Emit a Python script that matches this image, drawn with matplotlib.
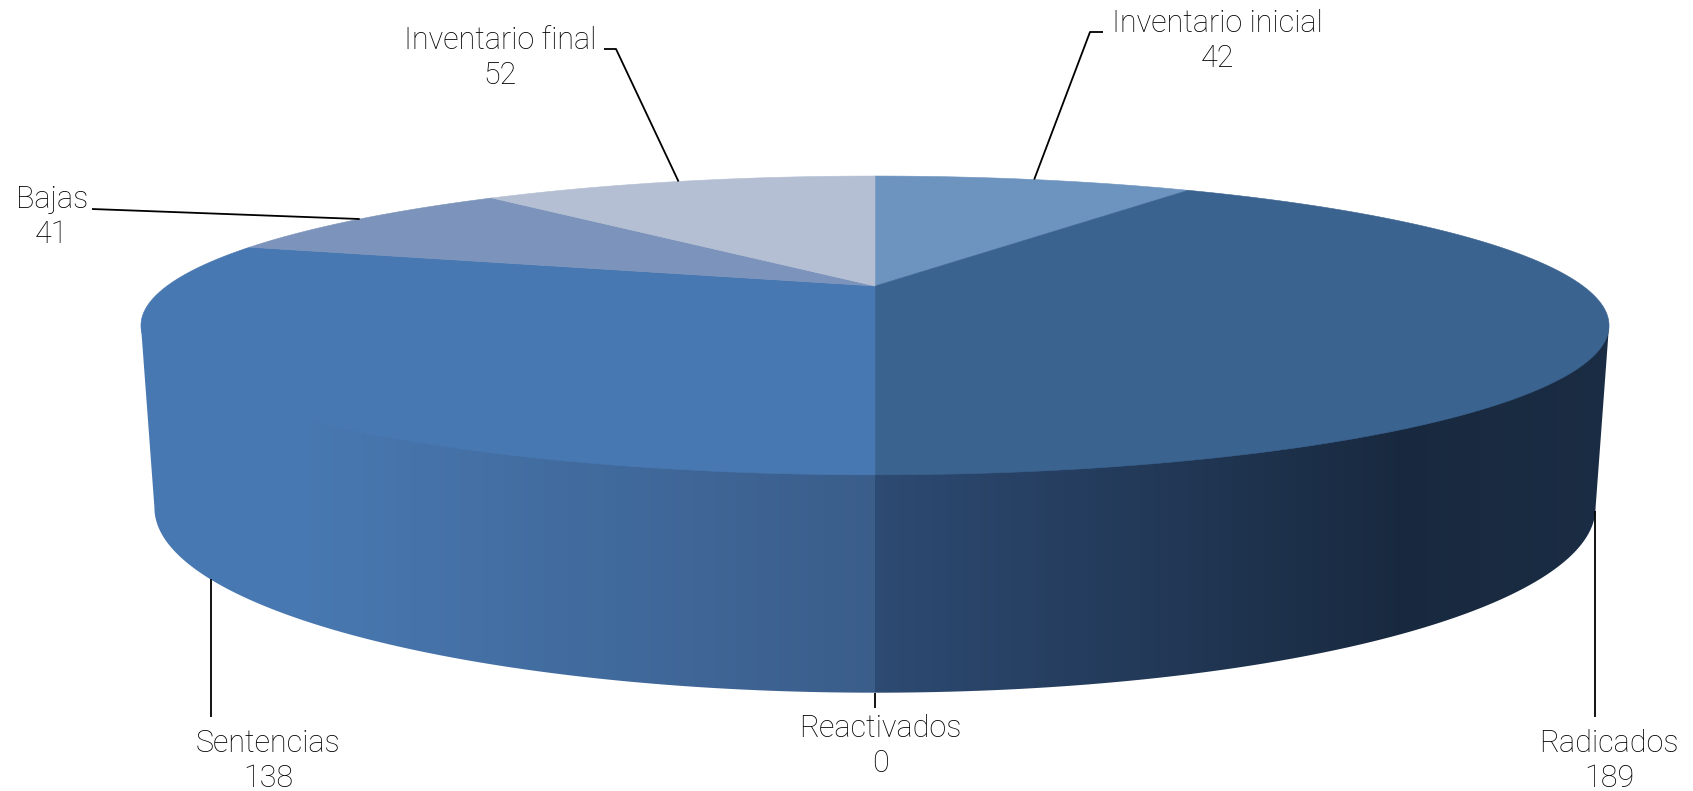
import numpy as np
import matplotlib
matplotlib.use('Agg')
import matplotlib.pyplot as plt
from matplotlib.colors import to_rgb
from matplotlib.patches import Polygon

categories = ['Inventario inicial', 'Radicados', 'Reactivados', 'Sentencias', 'Bajas', 'Inventario final']
values = [42, 189, 0, 138, 41, 52]
top_colors = ['#6d94bf', '#3b6390', '#3b6390', '#4878b1', '#7c93bb', '#b4bfd3']
# side shading per slice, (x, colour) stops. None = slice side is not visible
side_stops = [None,
              [(875, '#2d4a72'), (1400, '#18293f'), (1610, '#1a2c43')],
              None,
              [(140, '#4878b1'), (300, '#4878b1'), (875, '#3a5d8a')],
              None,
              None]
# where each label sits (centre of the two lines) and leader elbow
label_pos = [(1217, 41), (1609, 761), (880, 746), (268, 761), (52, 217), (500, 58)]
leader_end = [[(1090, 32), (1103, 32)], [(1595, 717)], [(875, 708)], [(211, 717)], [(92, 209)], [(616, 49), (604, 49)]]
leader_on_bottom = [False, True, True, True, False, False]

# perspective of the disc, in pixels. k is the foreshortening
k = 0.264
x0 = 875
top_y0, top_a, top_b = 286, 708, 139
bot_y0, bot_a, bot_b = 459, 695, 172


def project(theta, y0, a, b):
    # theta in degrees, clockwise from the far side of the disc
    u = np.sin(np.radians(theta))
    v = np.cos(np.radians(theta))
    w = 1 + k * v
    return np.column_stack([x0 + a * u / w, y0 - b * v / w])


def top(theta):
    return project(theta, top_y0, top_a, top_b)


def bottom(theta):
    return project(theta, bot_y0, bot_a, bot_b)


fig = plt.figure(figsize=(16.93, 7.91), dpi=100)
ax = fig.add_axes([0, 0, 1, 1])
ax.axis('off')

edges = np.concatenate([[0], np.cumsum(values)]) / np.sum(values) * 360.0
# the side wall is only seen between the two silhouette points
sil = np.degrees(np.arccos(-k))

for i in range(len(values)):
    if side_stops[i] is None:
        continue
    t1 = max(edges[i], sil)
    t2 = min(edges[i + 1], 360 - sil)
    th = np.linspace(t1, t2, 200)
    # wall runs on under the top face, else white shows along the shared edge
    inner = project(th, top_y0, top_a * 0.9, top_b * 0.9)
    poly = np.vstack([top(th[:1]), inner, top(th[-1:]), bottom(th)[::-1]])
    patch = Polygon(poly, closed=True, fc='none', ec='none')
    ax.add_patch(patch)
    xs = [s[0] for s in side_stops[i]]
    rgbs = np.array([to_rgb(s[1]) for s in side_stops[i]])
    columns = np.arange(xs[0], xs[-1])
    # uint8 so the flat part comes out exactly the colour of the top face
    shade = np.column_stack([np.interp(columns, xs, rgbs[:, c]) for c in range(3)])
    shade = np.round(shade * 255).astype(np.uint8)[np.newaxis, :, :]
    im = ax.imshow(shade, aspect='auto', extent=(xs[0], xs[-1], 791, 0), zorder=2,
                   interpolation='nearest')
    im.set_clip_path(patch)
# imshow resets the limits
ax.set_xlim(0, 1693)
ax.set_ylim(791, 0)

for i in range(len(values)):
    if values[i] == 0:
        continue
    th = np.linspace(edges[i], edges[i + 1], 200)
    poly = np.vstack([top(th), [[x0, top_y0]]])
    ax.add_patch(Polygon(poly, closed=True, fc=top_colors[i], ec=top_colors[i], lw=0.4, zorder=3))

mids = (edges[:-1] + edges[1:]) / 2.0
for i in range(len(values)):
    start = bottom(mids[i])[0] if leader_on_bottom[i] else top(mids[i])[0]
    pts = np.vstack([[start], leader_end[i]])
    if leader_on_bottom[i]:
        pts[:, 0] = pts[-1, 0]
    ax.plot(pts[:, 0], pts[:, 1], color='black', lw=1.3, zorder=4, solid_capstyle='butt')
    ax.text(label_pos[i][0], label_pos[i][1], categories[i] + '\n' + str(values[i]),
            ha='center', va='center', fontsize=22, family='Roboto', fontweight='light',
            linespacing=1.3, color='black', zorder=5)

fig.savefig('out.png', dpi=100)
